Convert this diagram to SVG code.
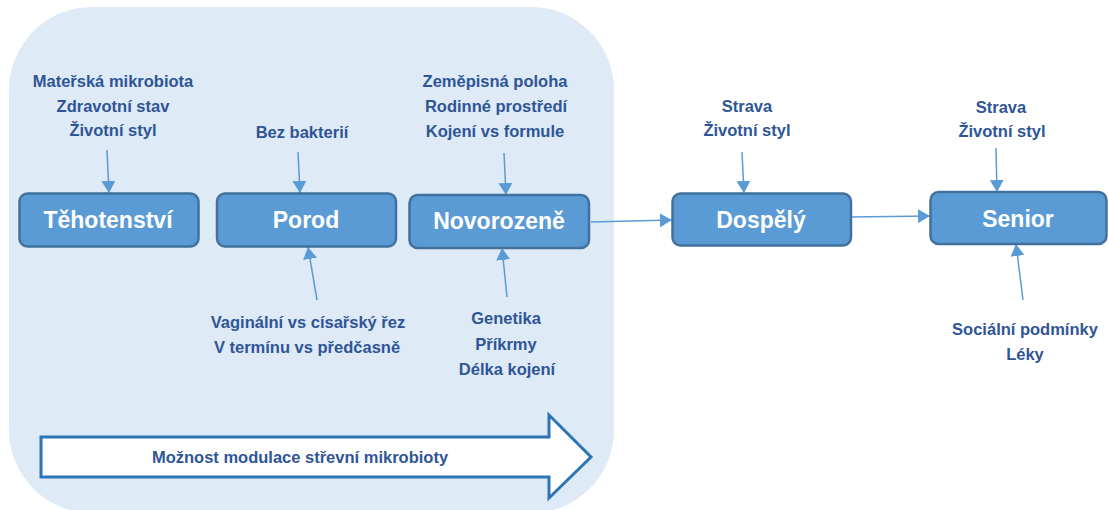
<svg xmlns="http://www.w3.org/2000/svg" width="1108" height="510" viewBox="0 0 1108 510">
  <style>
    .box { fill: #5B9BD5; stroke: #41719C; stroke-width: 2.5; }
    .boxlabel { font-family: "Liberation Sans", Arial, sans-serif; font-weight: bold; font-size: 23px; fill: #FFFFFF; text-anchor: middle; }
    .label { font-family: "Liberation Sans", Arial, sans-serif; font-weight: bold; font-size: 16.5px; fill: #2F5597; text-anchor: middle; }
    .conn { stroke: #5B9BD5; stroke-width: 1.5; fill: none; marker-end: url(#ah); }
  </style>
  <defs>
    <marker id="ah" markerUnits="userSpaceOnUse" markerWidth="12" markerHeight="14" refX="12" refY="7" orient="auto" viewBox="0 0 12 14">
      <path d="M0,0 L12,7 L0,14 z" fill="#5B9BD5"/>
    </marker>
  </defs>

  <rect id="background" x="9" y="7" width="605" height="506" rx="83" ry="83" fill="#DEEAF6"/>

  <g id="modulation-arrow">
    <polygon points="41,437 549,437 549,415 591,457 549,498 549,477 41,477" fill="#FFFFFF" stroke="#2E75B6" stroke-width="3" stroke-linejoin="miter"/>
    <text class="label" x="300" y="463" font-size="17">Možnost modulace střevní mikrobioty</text>
  </g>

  <g id="connectors">
    <line class="conn" x1="107" y1="150" x2="109" y2="193"/>
    <line class="conn" x1="298" y1="152" x2="300" y2="193"/>
    <line class="conn" x1="504" y1="153" x2="506" y2="195"/>
    <line class="conn" x1="317" y1="300" x2="308" y2="247"/>
    <line class="conn" x1="507" y1="297" x2="502" y2="248"/>
    <line class="conn" x1="591" y1="222" x2="672" y2="220"/>
    <line class="conn" x1="851" y1="217" x2="930" y2="216"/>
    <line class="conn" x1="742" y1="152" x2="744" y2="193"/>
    <line class="conn" x1="996" y1="148" x2="997" y2="192"/>
    <line class="conn" x1="1023" y1="300" x2="1016" y2="244"/>
  </g>

  <g id="tehotenstvi">
    <rect class="box" x="19.5" y="193.5" width="179" height="53" rx="8"/>
    <text class="boxlabel" x="108" y="228">Těhotenství</text>
  </g>
  <g id="porod">
    <rect class="box" x="217" y="193.5" width="179" height="53" rx="8"/>
    <text class="boxlabel" x="306" y="228">Porod</text>
  </g>
  <g id="novorozene">
    <rect class="box" x="409.5" y="195" width="179.5" height="53" rx="8"/>
    <text class="boxlabel" x="499" y="229">Novorozeně</text>
  </g>
  <g id="dospely">
    <rect class="box" x="672.5" y="193.5" width="178.5" height="52" rx="8"/>
    <text class="boxlabel" x="761" y="228">Dospělý</text>
  </g>
  <g id="senior">
    <rect class="box" x="930.5" y="192" width="176" height="52" rx="8"/>
    <text class="boxlabel" x="1018" y="226.5">Senior</text>
  </g>

  <g id="labels-tehotenstvi">
    <text class="label" x="113" y="87">Mateřská mikrobiota</text>
    <text class="label" x="113" y="112">Zdravotní stav</text>
    <text class="label" x="113" y="136">Životní styl</text>
  </g>
  <g id="labels-porod-top">
    <text class="label" x="302" y="138">Bez bakterií</text>
  </g>
  <g id="labels-novorozene-top">
    <text class="label" x="495" y="87">Zeměpisná poloha</text>
    <text class="label" x="496" y="112">Rodinné prostředí</text>
    <text class="label" x="495" y="137">Kojení vs formule</text>
  </g>
  <g id="labels-porod-bottom">
    <text class="label" x="308" y="328">Vaginální vs císařský řez</text>
    <text class="label" x="307" y="353">V termínu vs předčasně</text>
  </g>
  <g id="labels-novorozene-bottom">
    <text class="label" x="506" y="324">Genetika</text>
    <text class="label" x="506" y="350">Příkrmy</text>
    <text class="label" x="507" y="375">Délka kojení</text>
  </g>
  <g id="labels-dospely">
    <text class="label" x="747" y="112">Strava</text>
    <text class="label" x="747" y="136">Životní styl</text>
  </g>
  <g id="labels-senior-top">
    <text class="label" x="1001" y="113">Strava</text>
    <text class="label" x="1002" y="137">Životní styl</text>
  </g>
  <g id="labels-senior-bottom">
    <text class="label" x="1025" y="335">Sociální podmínky</text>
    <text class="label" x="1025" y="360">Léky</text>
  </g>
</svg>
